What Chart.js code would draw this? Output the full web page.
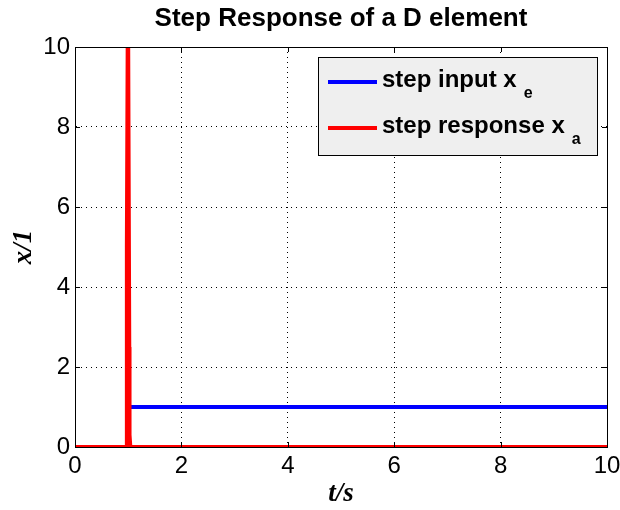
<!DOCTYPE html>
<html>
<head>
<meta charset="utf-8">
<script src="https://cdn.jsdelivr.net/npm/chart.js@4/dist/chart.umd.min.js"></script>
<style>
  body { margin: 0; background: #fff; }
</style>
</head>
<body>
<canvas id="chart" width="620" height="510"></canvas>
<script>
// data
const chartTitle = 'Step Response of a D element';
const inputT = [0, 1.0, 1.0, 10];
const inputX = [0, 0, 1, 1];
const responseT = [0, 0.975, 0.975, 0.99, 1.0, 1.02, 1.025, 1.04, 10];
const responseX = [0, 0, 5, 10, 10, 2.5, 0.3, 0, 0];
const seriesLabels = ['step input x', 'step response x'];
const seriesSubs = ['e', 'a'];
const seriesColors = ['#0000ff', '#ff0000'];
const axisTicks = [0, 2, 4, 6, 8, 10];

const toPoints = (xs, ys) => xs.map((x, i) => ({ x: x, y: ys[i] }));

// title centred over the axes, box around the plot area with inward ticks, like matlab
const boxPlugin = {
    id: 'box',
    afterDatasetsDraw(chart) {
        const a = chart.chartArea;
        const ctx = chart.ctx;
        const xs = chart.scales.x, ys = chart.scales.y;
        ctx.save();
        ctx.strokeStyle = '#000';
        ctx.lineWidth = 1;
        ctx.strokeRect(a.left + 0.5, a.top + 0.5, a.right - a.left, a.bottom - a.top);
        ctx.beginPath();
        axisTicks.forEach((v) => {
            const px = Math.round(xs.getPixelForValue(v)) + 0.5;
            ctx.moveTo(px, a.bottom); ctx.lineTo(px, a.bottom - 5);
            ctx.moveTo(px, a.top); ctx.lineTo(px, a.top + 5);
            const py = Math.round(ys.getPixelForValue(v)) + 0.5;
            ctx.moveTo(a.left, py); ctx.lineTo(a.left + 5, py);
            ctx.moveTo(a.right, py); ctx.lineTo(a.right - 5, py);
        });
        ctx.stroke();

        ctx.fillStyle = '#000';
        ctx.font = 'bold 26px "Liberation Sans", Arial, sans-serif';
        ctx.textAlign = 'center';
        ctx.textBaseline = 'middle';
        ctx.fillText(chartTitle, (a.left + a.right) / 2, 19);
        ctx.restore();
    },
};

// legend inside the axes with subscripts
const innerLegend = {
    id: 'innerLegend',
    afterDraw(chart) {
        const ctx = chart.ctx;
        const x0 = 318, y0 = 57, w = 279, h = 98;
        ctx.save();
        ctx.fillStyle = '#efefef';
        ctx.fillRect(x0, y0, w, h);
        ctx.strokeStyle = '#000';
        ctx.lineWidth = 1;
        ctx.strokeRect(x0 + 0.5, y0 + 0.5, w, h);
        chart.data.datasets.forEach((ds, i) => {
            const y = 82 + i * 46;
            ctx.strokeStyle = ds.borderColor;
            ctx.lineWidth = 4;
            ctx.beginPath();
            ctx.moveTo(328, y);
            ctx.lineTo(377, y);
            ctx.stroke();
            ctx.fillStyle = '#000';
            ctx.font = 'bold 24px "Liberation Sans", Arial, sans-serif';
            ctx.textBaseline = 'middle';
            ctx.fillText(ds.label, 382, y - 2);
            const tw = ctx.measureText(ds.label).width;
            ctx.font = 'bold 16px "Liberation Sans", Arial, sans-serif';
            ctx.fillText(seriesSubs[i], 382 + tw + 7, y + 12);
        });
        ctx.restore();
    },
};

const tickFont = { family: '"Liberation Sans", Arial, sans-serif', size: 24 };
const titleFont = { family: '"Liberation Serif", "DejaVu Serif", serif', size: 27, style: 'italic', weight: 'bold' };

new Chart(document.getElementById('chart').getContext('2d'), {
    type: 'scatter',
    data: {
        datasets: [
            {
                label: seriesLabels[0],
                data: toPoints(inputT, inputX),
                borderColor: seriesColors[0],
                borderWidth: 4,
                showLine: true,
                pointRadius: 0,
                tension: 0,
                order: 1,
            },
            {
                label: seriesLabels[1],
                data: toPoints(responseT, responseX),
                borderColor: seriesColors[1],
                borderWidth: 4,
                showLine: true,
                pointRadius: 0,
                tension: 0,
                order: 0,
            },
        ],
    },
    options: {
        responsive: false,
        animation: false,
        layout: { padding: { left: 8, right: 0, top: 47, bottom: 0 } },
        plugins: {
            legend: { display: false },
            tooltip: { enabled: false },
            title: { display: false },
        },
        scales: {
            x: {
                type: 'linear',
                min: 0,
                max: 10,
                afterBuildTicks: (s) => { s.ticks = axisTicks.map((v) => ({ value: v })); },
                afterFit: (s) => { s.height = 63; s.paddingRight = 13; },
                ticks: { color: '#000', font: tickFont, padding: 5, maxRotation: 0 },
                grid: { color: '#000', drawTicks: false, lineWidth: 1 },
                border: { color: '#000', dash: [1, 4] },
                title: { display: true, text: 't/s', color: '#000', font: titleFont, padding: 0 },
            },
            y: {
                type: 'linear',
                min: 0,
                max: 10,
                afterBuildTicks: (s) => { s.ticks = axisTicks.map((v) => ({ value: v })); },
                afterFit: (s) => { s.width = 67; },
                ticks: { color: '#000', font: tickFont, padding: 5 },
                grid: { color: '#000', drawTicks: false, lineWidth: 1 },
                border: { color: '#000', dash: [1, 4] },
                title: { display: true, text: 'x/1', color: '#000', font: titleFont, padding: 0 },
            },
        },
    },
    plugins: [boxPlugin, innerLegend],
});
</script>
</body>
</html>
